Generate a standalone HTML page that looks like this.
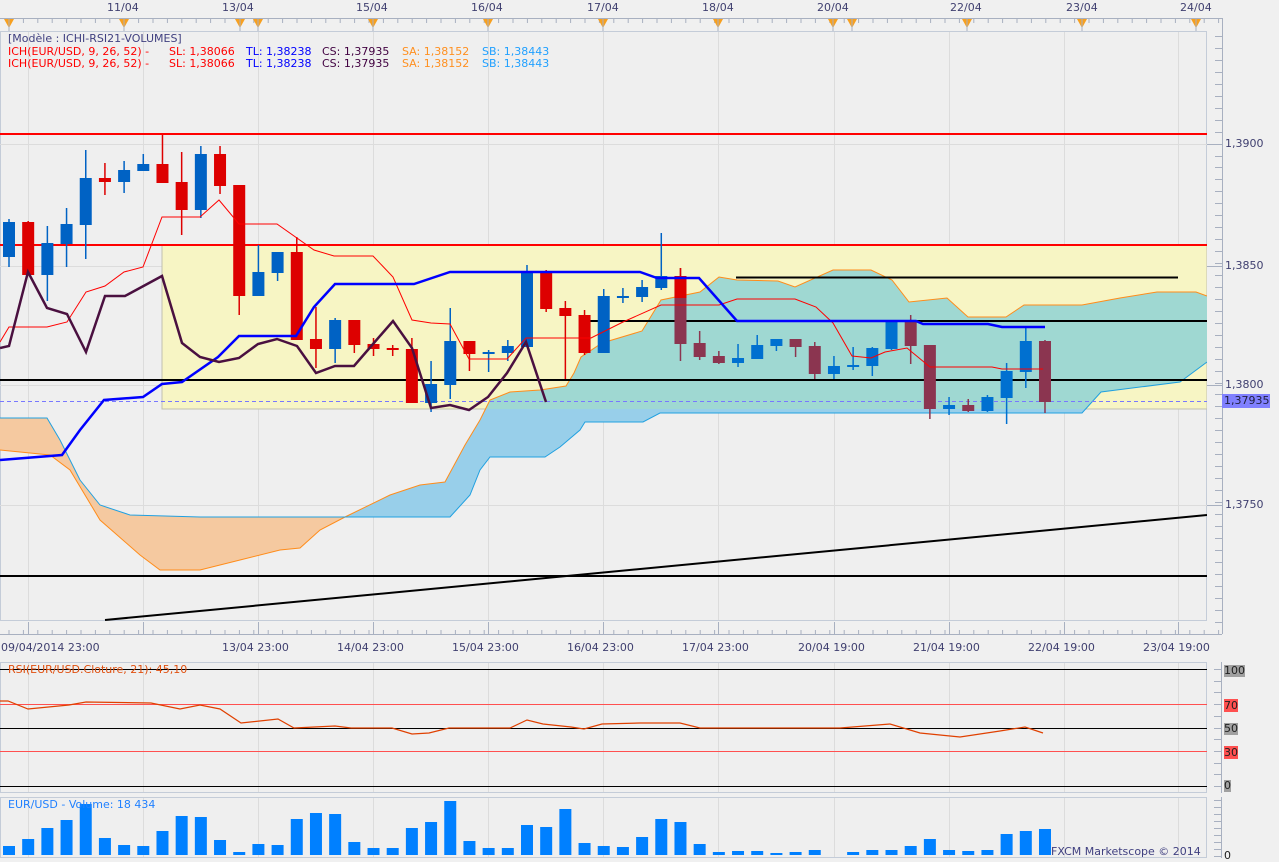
<!DOCTYPE html>
<html><head><meta charset="utf-8"><style>
html,body{margin:0;padding:0;background:#f0f0f0;}
body{width:1279px;height:860px;position:relative;overflow:hidden;font-family:"DejaVu Sans","Liberation Sans",sans-serif;}
.t{position:absolute;font-size:11px;white-space:nowrap;line-height:12px;}
</style></head><body>
<svg id="s" width="1279" height="860" style="position:absolute;left:0;top:0" xmlns="http://www.w3.org/2000/svg">
<defs><clipPath id="yc"><rect x="162" y="245" width="1045" height="164"/></clipPath>
<clipPath id="mc"><rect x="0" y="31" width="1207" height="590"/></clipPath></defs>
<line x1="0" y1="18.5" x2="1222" y2="18.5" stroke="#a8b0c0"/>
<g id="topticks"></g>
<rect x="0.5" y="31.5" width="1206" height="589" fill="#efefef" stroke="#c4ccd8"/>
<g id="grid" stroke="#dcdcdc" stroke-width="1"></g>
<g clip-path="url(#mc)">
<rect x="162" y="245" width="1045" height="164" fill="#f7f5c4" stroke="#c0c0b0"/>
<path id="cloudL" fill="#f5c9a0"/>
<path id="cloudR" fill="#98cfea"/>
<path id="cloudR2" fill="#9fd8d2" clip-path="url(#yc)"/>
<polyline id="sa" fill="none" stroke="#ff8c1a" stroke-width="1"/>
<polyline id="sb" fill="none" stroke="#20a0e0" stroke-width="1"/>
<line x1="0" y1="134" x2="1207" y2="134" stroke="#ff0000" stroke-width="2"/>
<line x1="0" y1="245" x2="1207" y2="245" stroke="#ff0000" stroke-width="2"/>
<line x1="0" y1="380" x2="1207" y2="380" stroke="#000" stroke-width="2"/>
<line x1="0" y1="576" x2="1207" y2="576" stroke="#000" stroke-width="2"/>
<line x1="736" y1="277.5" x2="1178" y2="277.5" stroke="#000" stroke-width="2"/>
<line x1="583" y1="321" x2="1207" y2="321" stroke="#000" stroke-width="2"/>
<line x1="105" y1="620" x2="1207" y2="515" stroke="#000" stroke-width="2"/>
<line x1="0" y1="401.5" x2="1207" y2="401.5" stroke="#7878ff" stroke-dasharray="4,3"/>
<g id="candles"></g>
<polyline fill="none" stroke="#ff0000" stroke-width="1" points="0,342 9,327 47,327 67,322 86,292 105,286 124,272 143,267 162,217 200,217 219,200 239,224 277,224 314,250 334,256 373,256 393,277 412,320 431,323 450,324 469,359 507,359 526,338 591,338 623,322 661,305 719,305 737,299 795,299 816,307 833,323 852,356 871,358 885,352 907,348 930,367 992,367 1002,369 1043,369"/>
<polyline fill="none" stroke="#0000ff" stroke-width="2.5" points="0,460 62,455 80,430 104,400 143,397 162,384 182,382 218,357 239,336 296,336 314,307 335,284 414,284 450,272 640,272 657,278 699,278 737,321 916,321 923,324 988,324 1002,327 1045,327"/>
<polyline fill="none" stroke="#4a1040" stroke-width="2.5" points="0,348 9,346 28,272 47,308 67,314 86,352 105,296 125,296 162,276 182,343 200,357 219,362 239,358 258,344 277,339 297,346 316,373 335,366 354,366 373,344 393,321 412,348 431,408 450,405 469,410 488,397 507,373 526,342 546,402"/>
</g>
<line x1="1222.5" y1="18" x2="1222.5" y2="634" stroke="#a8b0c0"/>
<g id="pticks" stroke="#a8b0c0"></g>
<rect x="1222" y="394" width="48" height="14" fill="#8080ff"/>
<line x1="0" y1="634.5" x2="1222" y2="634.5" stroke="#a8b0c0"/>
<g id="bticks" stroke="#a8b0c0"></g>
<rect x="0.5" y="662.5" width="1206" height="130" fill="#efefef" stroke="#c4ccd8"/>
<g id="grid2" stroke="#dcdcdc"></g>
<line x1="0" y1="669.5" x2="1207" y2="669.5" stroke="#000"/>
<line x1="0" y1="704.5" x2="1207" y2="704.5" stroke="#ff5050"/>
<line x1="0" y1="728.5" x2="1207" y2="728.5" stroke="#000"/>
<line x1="0" y1="751.5" x2="1207" y2="751.5" stroke="#ff5050"/>
<line x1="0" y1="786.5" x2="1207" y2="786.5" stroke="#000"/>
<polyline fill="none" stroke="#e04000" stroke-width="1.2" points="0,701 8,701 28,709 69,705 86,702 151,703 180,709 200,705 220,709 241,723 278,719 294,728 335,726 351,728 392,728 412,734 429,733 449,728 510,728 527,720 543,724 571,727 584,729 602,724 640,723 680,723 700,728 800,728 840,728 890,724 920,733 960,737 1000,731 1025,727 1043,733"/>
<line x1="1221.5" y1="662" x2="1221.5" y2="793" stroke="#a8b0c0"/>
<g id="rticks" stroke="#a8b0c0"></g>
<rect x="1224" y="665" width="21" height="12" fill="#a0a0a0"/>
<rect x="1224" y="699" width="14" height="13" fill="#ff5050"/>
<rect x="1224" y="723" width="14" height="12" fill="#a0a0a0"/>
<rect x="1224" y="746" width="14" height="13" fill="#ff5050"/>
<rect x="1224" y="780" width="7" height="12" fill="#a0a0a0"/>
<rect x="0.5" y="797.5" width="1206" height="60" fill="#efefef" stroke="#c4ccd8"/>
<g id="grid3" stroke="#dcdcdc"></g>
<g id="vol" fill="#0080ff"></g>
<line x1="1221.5" y1="797" x2="1221.5" y2="858" stroke="#a8b0c0"/>
<g id="vticks" stroke="#a8b0c0"></g>
</svg>

<div class="t" style="left:8px;top:33px;color:#404080">[Modèle : ICHI-RSI21-VOLUMES]</div>
<div class="t" style="left:8px;top:46px;color:#ff0000">ICH(EUR/USD, 9, 26, 52) -</div>
<div class="t" style="left:169px;top:46px;color:#ff0000">SL: 1,38066</div>
<div class="t" style="left:246px;top:46px;color:#0000ff">TL: 1,38238</div>
<div class="t" style="left:322px;top:46px;color:#400040">CS: 1,37935</div>
<div class="t" style="left:402px;top:46px;color:#ff9020">SA: 1,38152</div>
<div class="t" style="left:482px;top:46px;color:#20a0ff">SB: 1,38443</div>
<div class="t" style="left:8px;top:58px;color:#ff0000">ICH(EUR/USD, 9, 26, 52) -</div>
<div class="t" style="left:169px;top:58px;color:#ff0000">SL: 1,38066</div>
<div class="t" style="left:246px;top:58px;color:#0000ff">TL: 1,38238</div>
<div class="t" style="left:322px;top:58px;color:#400040">CS: 1,37935</div>
<div class="t" style="left:402px;top:58px;color:#ff9020">SA: 1,38152</div>
<div class="t" style="left:482px;top:58px;color:#20a0ff">SB: 1,38443</div>

<div class="t" style="left:107px;top:2px;color:#404070">11/04</div>
<div class="t" style="left:222px;top:2px;color:#404070">13/04</div>
<div class="t" style="left:356px;top:2px;color:#404070">15/04</div>
<div class="t" style="left:471px;top:2px;color:#404070">16/04</div>
<div class="t" style="left:587px;top:2px;color:#404070">17/04</div>
<div class="t" style="left:702px;top:2px;color:#404070">18/04</div>
<div class="t" style="left:817px;top:2px;color:#404070">20/04</div>
<div class="t" style="left:950px;top:2px;color:#404070">22/04</div>
<div class="t" style="left:1066px;top:2px;color:#404070">23/04</div>
<div class="t" style="left:1180px;top:2px;color:#404070">24/04</div>

<div class="t" style="left:1225px;top:138px;color:#404070">1,3900</div>
<div class="t" style="left:1225px;top:260px;color:#404070">1,3850</div>
<div class="t" style="left:1225px;top:379px;color:#404070">1,3800</div>
<div class="t" style="left:1224px;top:395px;color:#202040">1,37935</div>
<div class="t" style="left:1225px;top:499px;color:#404070">1,3750</div>

<div class="t" style="left:1px;top:642px;color:#404070">09/04/2014 23:00</div>
<div class="t" style="left:222px;top:642px;color:#404070">13/04 23:00</div>
<div class="t" style="left:337px;top:642px;color:#404070">14/04 23:00</div>
<div class="t" style="left:452px;top:642px;color:#404070">15/04 23:00</div>
<div class="t" style="left:567px;top:642px;color:#404070">16/04 23:00</div>
<div class="t" style="left:682px;top:642px;color:#404070">17/04 23:00</div>
<div class="t" style="left:798px;top:642px;color:#404070">20/04 19:00</div>
<div class="t" style="left:913px;top:642px;color:#404070">21/04 19:00</div>
<div class="t" style="left:1028px;top:642px;color:#404070">22/04 19:00</div>
<div class="t" style="left:1143px;top:642px;color:#404070">23/04 19:00</div>

<div class="t" style="left:8px;top:664px;color:#e05010">RSI(EUR/USD.Cloture, 21): 45,10</div>
<div class="t" style="left:1224px;top:665px;color:#202020">100</div>
<div class="t" style="left:1224px;top:700px;color:#202020">70</div>
<div class="t" style="left:1224px;top:723px;color:#202020">50</div>
<div class="t" style="left:1224px;top:747px;color:#202020">30</div>
<div class="t" style="left:1224px;top:780px;color:#202020">0</div>

<div class="t" style="left:8px;top:799px;color:#2080ff">EUR/USD - Volume: 18 434</div>
<div class="t" style="left:1051px;top:846px;color:#404080">FXCM Marketscope © 2014</div>
<div class="t" style="left:1224px;top:850px;color:#202020">0</div>

<script>
var NS="http://www.w3.org/2000/svg";
function el(p,t,a){var e=document.createElementNS(NS,t);for(var k in a)e.setAttribute(k,a[k]);document.getElementById(p).appendChild(e);return e;}
var gx=[28,143,258,373,488,603,718,834,949,1064,1178];
gx.forEach(function(x){el("grid","line",{x1:x+.5,y1:32,x2:x+.5,y2:620});el("grid2","line",{x1:x+.5,y1:663,x2:x+.5,y2:792});el("grid3","line",{x1:x+.5,y1:798,x2:x+.5,y2:857});});
[144,266,385,505].forEach(function(y){el("grid","line",{x1:0,y1:y+.5,x2:1207,y2:y+.5});});
for(var x=9;x<1222;x+=14.4){el("topticks","line",{x1:x,y1:18,x2:x,y2:23,stroke:"#a8b0c0"});el("bticks","line",{x1:x,y1:630,x2:x,y2:634});}
gx.forEach(function(x){el("bticks","line",{x1:x+.5,y1:622,x2:x+.5,y2:634});});
[9,124,240,258,373,488,603,718,833,852,967,1082,1196].forEach(function(x){el("topticks","path",{d:"M"+(x-5)+",19 L"+(x+5)+",19 L"+x+",28 Z",fill:"#f7a020"});el("topticks","line",{x1:x,y1:18,x2:x,y2:31,stroke:"#a8b0c0"});});
for(var y=36;y<630;y+=11.95){el("pticks","line",{x1:1215,y1:Math.round(y)+.5,x2:1222,y2:Math.round(y)+.5});}
[144,266,385,505].forEach(function(y){el("pticks","line",{x1:1207,y1:y+.5,x2:1222,y2:y+.5});});
for(var y=669;y<792;y+=11.7){el("rticks","line",{x1:1214,y1:Math.round(y)+.5,x2:1221,y2:Math.round(y)+.5});}
for(var y=800;y<858;y+=7){el("vticks","line",{x1:1214,y1:y+.5,x2:1221,y2:y+.5});}
var SA=[[0,450],[50,455],[70,470],[100,520],[140,555],[160,570],[200,570],[240,560],[280,550],[300,548],[320,530],[345,517],[390,495],[420,485],[445,482],[465,445],[480,420],[490,400],[510,392],[540,390],[566,386],[574,373],[581,357],[602,343],[642,331],[661,300],[700,292],[719,277],[737,280],[778,281],[795,287],[833,270],[871,270],[892,280],[909,302],[947,298],[968,317],[1006,317],[1024,305],[1082,305],[1120,298],[1157,292],[1196,292],[1207,296]];
var SB=[[0,418],[47,418],[60,440],[80,480],[100,505],[130,515],[200,517],[450,517],[470,495],[480,470],[490,457],[545,457],[560,447],[580,430],[585,422],[643,422],[660,413],[1082,413],[1101,392],[1180,382],[1207,362]];
function pts(a){return a.map(function(p){return p[0]+","+p[1];}).join(" ");}
document.getElementById("sa").setAttribute("points",pts(SA));
document.getElementById("sb").setAttribute("points",pts(SB));
function seg(a,x0,x1){return a.filter(function(p){return p[0]>=x0&&p[0]<=x1;});}
var L=seg(SA,0,345).concat(seg(SB,0,345).reverse());
var R=seg(SA,345,1207).concat(seg(SB,345,1207).reverse());
var dl="M"+pts(L).replace(/ /g," L")+" Z", dr="M"+pts(R).replace(/ /g," L")+" Z";
document.getElementById("cloudL").setAttribute("d",dl);
document.getElementById("cloudR").setAttribute("d",dr);
document.getElementById("cloudR2").setAttribute("d",dr);
var C=[[222,257,219,267,"B"],[222,275,221,275,"R"],[243,275,226,301,"B"],[224,244,208,267,"B"],[178,225,150,259,"B"],[178,182,163,195,"R"],[170,182,161,193,"B"],[164,171,154,171,"B"],[164,183,135,183,"R"],[182,210,152,235,"R"],[154,210,146,218,"B"],[154,186,146,194,"R"],[185,296,185,315,"R"],[272,296,245,296,"B"],[252,273,252,281,"B"],[252,340,237,340,"R"],[339,349,307,368,"R"],[320,349,318,363,"B"],[320,345,320,353,"R"],[344,349,338,356,"R"],[348,350,345,356,"R"],[349,403,338,403,"R"],[384,403,361,412,"B"],[341,385,308,399,"B"],[341,354,341,371,"R"],[352,354,350,372,"B"],[346,353,340,361,"B"],[272,347,265,347,"B"],[272,309,270,312,"R"],[308,316,301,379,"R"],[315,353,310,355,"R"],[296,353,289,353,"B"],[296,298,288,303,"B"],[287,297,280,302,"B"],[276,288,233,290,"B"],[276,344,268,361,"S"],[343,357,331,360,"M"],[356,363,351,364,"M"],[358,363,344,367,"B"],[345,359,335,359,"B"],[339,346,339,351,"B"],[339,347,339,357,"M"],[346,374,342,379,"M"],[366,374,356,379,"B"],[365,367,347,370,"B"],[348,366,347,376,"B"],[322,349,322,350,"B"],[322,346,315,364,"M"],[345,409,345,419,"M"],[405,409,397,415,"B"],[405,411,399,412,"M"],[397,411,395,412,"B"],[371,398,363,424,"B"],[341,372,328,388,"B"],[341,402,340,413,"M"]];
var col={B:"#0062c4",R:"#dd0000",M:"#8b3550",S:"#8b3550"};
C.forEach(function(c,i){var x=9+i*19.185;var cl=col[c[4]];if(i>=36&&c[4]=="B")cl="#0070d0";
el("candles","line",{x1:x,y1:c[2],x2:x,y2:c[3],stroke:cl,"stroke-width":1.5});
el("candles","rect",{x:x-6,y:c[0],width:12,height:Math.max(2,c[1]-c[0]),fill:cl});
if(c[4]=="S"){el("candles","line",{x1:x,y1:c[2],x2:x,y2:298,stroke:"#dd0000","stroke-width":1.5});el("candles","rect",{x:x-6,y:c[0],width:12,height:298-c[0],fill:"#dd0000"});}});
var V=[846,839,828,820,804,838,845,846,831,816,817,840,852,844,845,819,813,814,842,848,848,828,822,801,841,848,848,825,827,809,843,846,847,837,819,822,844,852,851,851,853,852,850,855,852,850,850,846,839,850,851,850,834,831,829];
V.forEach(function(v,i){var x=9+i*19.185;el("vol","rect",{x:x-6,y:v,width:12,height:855-v});});
</script>
</body></html>
